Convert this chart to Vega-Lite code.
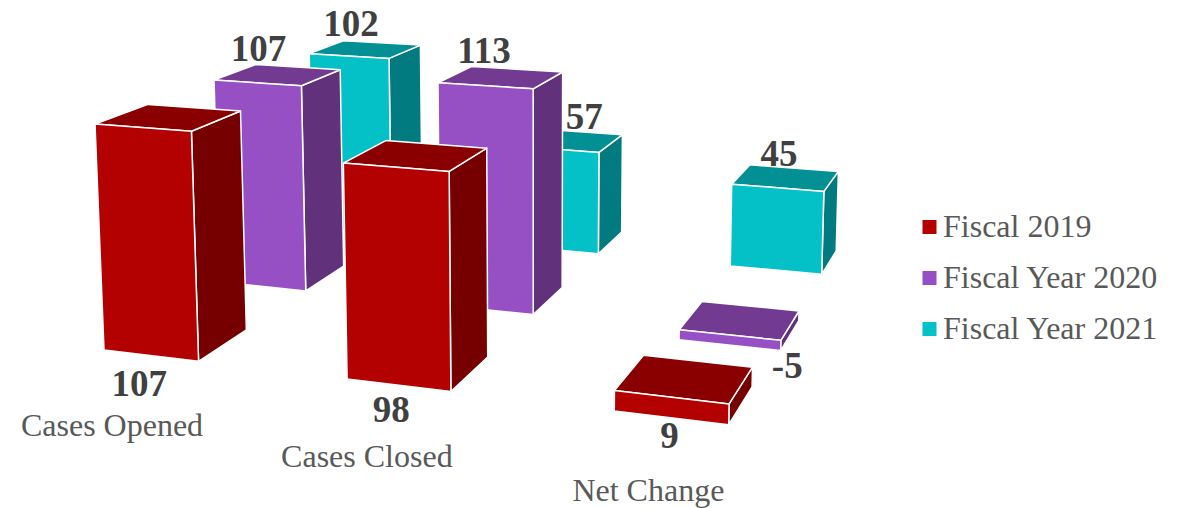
{
  "$schema": "https://vega.github.io/schema/vega-lite/v6.json",
  "autosize": {"type": "fit", "contains": "padding"},
  "width": 1188,
  "height": 508,
  "padding": 0,
  "background": "white",
  "config": {"view": {"stroke": null}},
  "datasets": {
    "bars": [
      {"series": "Fiscal Year 2021", "category": "Cases Opened", "value": 102},
      {"series": "Fiscal Year 2021", "category": "Cases Closed", "value": 57},
      {"series": "Fiscal Year 2021", "category": "Net Change", "value": 45},
      {"series": "Fiscal Year 2020", "category": "Cases Opened", "value": 107},
      {"series": "Fiscal Year 2020", "category": "Cases Closed", "value": 113},
      {"series": "Fiscal Year 2020", "category": "Net Change", "value": -5},
      {"series": "Fiscal 2019", "category": "Cases Opened", "value": 107},
      {"series": "Fiscal 2019", "category": "Cases Closed", "value": 98},
      {"series": "Fiscal 2019", "category": "Net Change", "value": 9}
    ],
    "categories": [
      {"category": "Cases Opened"},
      {"category": "Cases Closed"},
      {"category": "Net Change"}
    ]
  },
  "layer": [
    {
      "data": {"name": "bars"},
      "transform": [
        {"calculate": "indexof(['Cases Opened','Cases Closed','Net Change'], datum.category)", "as": "c"},
        {"calculate": "indexof(['Fiscal 2019','Fiscal Year 2020','Fiscal Year 2021'], datum.series)", "as": "s"},
        {"calculate": "2.5 * datum.c", "as": "u0"},
        {"calculate": "2.4 * datum.s", "as": "v0"},
        {"calculate": "max(0, datum.value)", "as": "wHigh"},
        {"calculate": "min(0, datum.value)", "as": "wLow"},
        {"calculate": "['side','top','front']", "as": "face"},
        {"flatten": ["face"]},
        {"calculate": "[0,1,2,3,4]", "as": "corner"},
        {"flatten": ["corner"]},
        {"calculate": "[0,1,1,0,0][datum.corner]", "as": "pa"},
        {"calculate": "[0,0,1,1,0][datum.corner]", "as": "pb"},
        {"calculate": "datum.face === 'side' ? datum.u0 + 1 : datum.u0 + datum.pa", "as": "U"},
        {"calculate": "datum.face === 'front' ? datum.v0 : datum.face === 'side' ? datum.v0 + datum.pa : datum.v0 + datum.pb", "as": "V"},
        {"calculate": "datum.face === 'top' ? datum.wHigh : datum.wHigh - datum.pb * (datum.wHigh - datum.wLow)", "as": "W"},
        {"calculate": "1 - 0.018 * datum.U + 0.0515 * datum.V - 0.00019 * datum.W", "as": "D"},
        {"calculate": "(104 + 91 * datum.U + 59.6 * datum.V - 0.102 * datum.W) / datum.D", "as": "px"},
        {"calculate": "(350 + 4.8 * datum.U - 13.8 * datum.V - 2.136 * datum.W) / datum.D", "as": "py"},
        {"calculate": "datum.series + '|' + datum.face", "as": "paint"},
        {"calculate": "datum.series + '|' + datum.category + '|' + datum.face", "as": "faceKey"}
      ],
      "mark": {"type": "line", "filled": true, "stroke": "#ffffff", "strokeWidth": 1.5, "strokeJoin": "round", "interpolate": "linear"},
      "encoding": {
        "x": {"field": "px", "type": "quantitative", "scale": {"domain": [0, 1188], "nice": false, "zero": false}, "axis": null},
        "y": {"field": "py", "type": "quantitative", "scale": {"domain": [508, 0], "nice": false, "zero": false}, "axis": null},
        "order": {"field": "corner", "type": "quantitative"},
        "detail": {"field": "faceKey", "type": "nominal"},
        "color": {
          "field": "paint",
          "type": "nominal",
          "legend": null,
          "scale": {
            "domain": [
              "Fiscal 2019|front", "Fiscal 2019|top", "Fiscal 2019|side",
              "Fiscal Year 2020|front", "Fiscal Year 2020|top", "Fiscal Year 2020|side",
              "Fiscal Year 2021|front", "Fiscal Year 2021|top", "Fiscal Year 2021|side"
            ],
            "range": [
              "#b30000", "#8a0000", "#760000",
              "#9750c4", "#733a92", "#61317c",
              "#04c1c8", "#039095", "#017b80"
            ]
          }
        }
      }
    },
    {
      "data": {"name": "bars"},
      "transform": [
        {"calculate": "indexof(['Cases Opened','Cases Closed','Net Change'], datum.category)", "as": "c"},
        {"calculate": "indexof(['Fiscal 2019','Fiscal Year 2020','Fiscal Year 2021'], datum.series)", "as": "s"},
        {"calculate": "[[[0.36,0,-20.3],[0.426,0,-17.6],[0.49,0,-13.3]],[[0.03,1,2],[0.14,1,2],[1.07,0,-13]],[[0.1,1,3],[0.54,1,1.5],[0.33,1,0.5]]][datum.s][datum.c]", "as": "nudge"},
        {"calculate": "2.5 * datum.c + datum.nudge[0]", "as": "U"},
        {"calculate": "2.4 * datum.s + datum.nudge[1]", "as": "V"},
        {"calculate": "(datum.s === 0 ? 0 : datum.value) + datum.nudge[2]", "as": "W"},
        {"calculate": "1 - 0.018 * datum.U + 0.0515 * datum.V - 0.00019 * datum.W", "as": "D"},
        {"calculate": "(104 + 91 * datum.U + 59.6 * datum.V - 0.102 * datum.W) / datum.D", "as": "px"},
        {"calculate": "(350 + 4.8 * datum.U - 13.8 * datum.V - 2.136 * datum.W) / datum.D", "as": "py"}
      ],
      "mark": {"type": "text", "font": "Liberation Serif", "fontWeight": "bold", "fontSize": 37, "color": "#404040", "align": "center", "baseline": "alphabetic"},
      "encoding": {
        "x": {"field": "px", "type": "quantitative", "scale": {"domain": [0, 1188], "nice": false, "zero": false}, "axis": null},
        "y": {"field": "py", "type": "quantitative", "scale": {"domain": [508, 0], "nice": false, "zero": false}, "axis": null},
        "text": {"field": "value", "type": "nominal"}
      }
    },
    {
      "data": {"name": "categories"},
      "transform": [
        {"calculate": "indexof(['Cases Opened','Cases Closed','Net Change'], datum.category)", "as": "c"},
        {"calculate": "2.5 * datum.c + 0.05 + 0.13 * datum.c", "as": "U"},
        {"calculate": "-41.5 + 1.75 * datum.c", "as": "W"},
        {"calculate": "1 - 0.018 * datum.U - 0.00019 * datum.W", "as": "D"},
        {"calculate": "(104 + 91 * datum.U - 0.102 * datum.W) / datum.D", "as": "px"},
        {"calculate": "(350 + 4.8 * datum.U - 2.136 * datum.W) / datum.D", "as": "py"}
      ],
      "mark": {"type": "text", "font": "Liberation Serif", "fontSize": 32, "color": "#595959", "align": "center", "baseline": "alphabetic"},
      "encoding": {
        "x": {"field": "px", "type": "quantitative", "scale": {"domain": [0, 1188], "nice": false, "zero": false}, "axis": null},
        "y": {"field": "py", "type": "quantitative", "scale": {"domain": [508, 0], "nice": false, "zero": false}, "axis": null},
        "text": {"field": "category", "type": "nominal"}
      }
    },
    {
      "data": {"name": "bars"},
      "mark": {"type": "point", "shape": "square", "filled": true, "opacity": 1},
      "encoding": {
        "size": {"value": 0},
        "color": {
          "field": "series",
          "type": "nominal",
          "scale": {
            "domain": ["Fiscal 2019", "Fiscal Year 2020", "Fiscal Year 2021"],
            "range": ["#b30000", "#9750c4", "#04c1c8"]
          },
          "legend": {
            "title": null,
            "orient": "none",
            "legendX": 913.5,
            "legendY": 211,
            "padding": 0,
            "symbolType": "square",
            "symbolSize": 196,
            "symbolStrokeWidth": 0,
            "labelFont": "Liberation Serif",
            "labelFontSize": 32,
            "labelColor": "#595959",
            "labelOffset": -2.5,
            "rowPadding": 19,
            "labelLimit": 300
          }
        }
      }
    }
  ],
  "resolve": {"scale": {"color": "independent"}}
}
